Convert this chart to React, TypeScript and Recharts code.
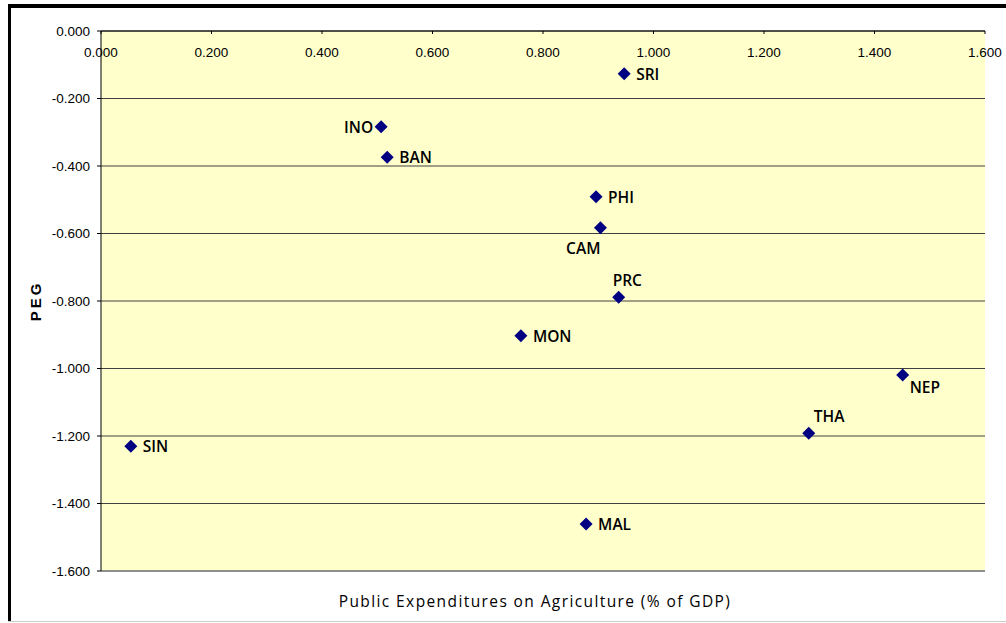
import React from "react";
import {
  CartesianGrid,
  LabelList,
  Scatter,
  ScatterChart,
  XAxis,
  YAxis,
} from "recharts";

// Countries and their readings (x: public exp. on agriculture % GDP, y: PEG)
const countries = ["SRI", "INO", "BAN", "PHI", "CAM", "PRC", "MON", "NEP", "THA", "SIN", "MAL"];
const agriExp = [0.947, 0.507, 0.518, 0.896, 0.904, 0.937, 0.76, 1.451, 1.281, 0.054, 0.878];
const peg = [-0.127, -0.284, -0.374, -0.491, -0.583, -0.789, -0.903, -1.019, -1.192, -1.23, -1.461];

const xTicks = [0, 0.2, 0.4, 0.6, 0.8, 1.0, 1.2, 1.4, 1.6];
const yTicks = [0, -0.2, -0.4, -0.6, -0.8, -1.0, -1.2, -1.4, -1.6];

// where each country label sits relative to its marker
const labelSide: Record<string, string> = {
  SRI: "right",
  INO: "left",
  BAN: "right",
  PHI: "right",
  CAM: "belowLeft",
  PRC: "above",
  MON: "right",
  NEP: "belowRight",
  THA: "aboveRight",
  SIN: "right",
  MAL: "right",
};

const data = countries.map((c, i) => ({ name: c, x: agriExp[i], y: peg[i] }));

const TICK_FONT = "'Liberation Sans', Arial, sans-serif";
const LABEL_FONT = "'Open Sans', 'DejaVu Sans', sans-serif";

function Diamond(props: any) {
  const { cx, cy } = props;
  const r = 6.5;
  return (
    <polygon
      points={`${cx},${cy - r} ${cx + r},${cy} ${cx},${cy + r} ${cx - r},${cy}`}
      fill="#000080"
    />
  );
}

function TopTick(props: any) {
  const { x, y, payload } = props;
  return (
    <g>
      <line x1={x} y1={y} x2={x} y2={y + 3} stroke="#000" />
      <text
        x={x}
        y={y + 21}
        textAnchor="middle"
        dominantBaseline="central"
        fontFamily={TICK_FONT}
        fontSize={13.5}
        fill="#000"
      >
        {Number(payload.value).toFixed(3)}
      </text>
    </g>
  );
}

function PointLabel(props: any) {
  const { x, y, width, height, value } = props;
  const cx = x + width / 2;
  const cy = y + height / 2;
  const side = labelSide[value] || "right";
  let dx = 12;
  let dy = 0;
  let anchor: "start" | "end" = "start";
  if (side === "left") {
    dx = -8;
    anchor = "end";
  } else if (side === "belowLeft") {
    dx = 0;
    dy = 20;
    anchor = "end";
  } else if (side === "above") {
    dx = -6;
    dy = -17;
  } else if (side === "aboveRight") {
    dx = 5;
    dy = -17;
  } else if (side === "belowRight") {
    dx = 7;
    dy = 12;
  }
  return (
    <text
      x={cx + dx}
      y={cy + dy}
      textAnchor={anchor}
      dominantBaseline="central"
      fontFamily={LABEL_FONT}
      fontWeight={600}
      fontSize={15.5}
      fill="#000"
    >
      {value}
    </text>
  );
}

function XTitle(props: any) {
  const vb = props.viewBox || {};
  return (
    <text
      x={vb.x + vb.width / 2 - 8}
      y={601}
      textAnchor="middle"
      dominantBaseline="central"
      fontFamily={LABEL_FONT}
      fontSize={15.5}
      letterSpacing={1.4}
      fill="#000"
    >
      Public Expenditures on Agriculture (% of GDP)
    </text>
  );
}

export default function App() {
  return (
    <div style={{ position: "absolute", left: 0, top: 0, width: 1006, height: 623, background: "#fff" }}>
      <div style={{ position: "absolute", left: 0, top: 0 }}>
        <ScatterChart
          width={1006}
          height={623}
          margin={{ top: 11, right: 21, bottom: 12, left: 41 }}
        >
          <CartesianGrid
            horizontal={true}
            vertical={false}
            fill="#FFFFCC"
            fillOpacity={1}
            stroke="#404040"
            horizontalValues={yTicks}
            xAxisId="top"
            yAxisId="left"
          />
          <XAxis
            xAxisId="top"
            type="number"
            dataKey="x"
            orientation="top"
            domain={[0, 1.6]}
            ticks={xTicks}
            height={20}
            tickSize={0}
            tickMargin={0}
            tickLine={false}
            axisLine={{ stroke: "#000" }}
            tick={(p: any) => <TopTick {...p} />}
            interval={0}
          />
          <XAxis
            xAxisId="bottom"
            type="number"
            orientation="bottom"
            domain={[0, 1.6]}
            ticks={xTicks}
            height={40}
            tick={false}
            tickLine={false}
            axisLine={{ stroke: "#8a8a8a", strokeWidth: 1.5 }}
            label={(p: any) => <XTitle {...p} />}
          />
          <YAxis
            yAxisId="left"
            type="number"
            dataKey="y"
            domain={[-1.6, 0]}
            ticks={yTicks}
            width={60}
            tickSize={4}
            tickMargin={7}
            interval={0}
            axisLine={{ stroke: "#000" }}
            tickLine={{ stroke: "#000" }}
            tick={{ fontFamily: TICK_FONT, fontSize: 13.5, fill: "#000" }}
            tickFormatter={(v: number) => v.toFixed(3)}
            label={{
              value: "PEG",
              angle: -90,
              position: "left",
              offset: 5,
              style: {
                fontFamily: TICK_FONT,
                fontWeight: 700,
                fontSize: 15,
                letterSpacing: 3,
                fill: "#000",
                textAnchor: "middle",
              },
            }}
          />
          <YAxis
            yAxisId="right"
            type="number"
            orientation="right"
            domain={[-1.6, 0]}
            width={0}
            tick={false}
            tickLine={false}
            axisLine={{ stroke: "#8a8a8a", strokeWidth: 1.5 }}
          />
          <Scatter
            data={data}
            xAxisId="top"
            yAxisId="left"
            shape={(p: any) => <Diamond {...p} />}
            isAnimationActive={false}
          >
            <LabelList dataKey="name" content={(p: any) => <PointLabel {...p} />} />
          </Scatter>
        </ScatterChart>
      </div>
      {/* outer frame */}
      <div style={{ position: "absolute", left: 8, top: 4, width: 998, height: 4, background: "#000", zIndex: 10 }} />
      <div style={{ position: "absolute", left: 8, top: 4, width: 3, height: 618, background: "#000", zIndex: 10 }} />
      <div style={{ position: "absolute", left: 8, top: 621, width: 998, height: 1, background: "#ccc", zIndex: 10 }} />
    </div>
  );
}
